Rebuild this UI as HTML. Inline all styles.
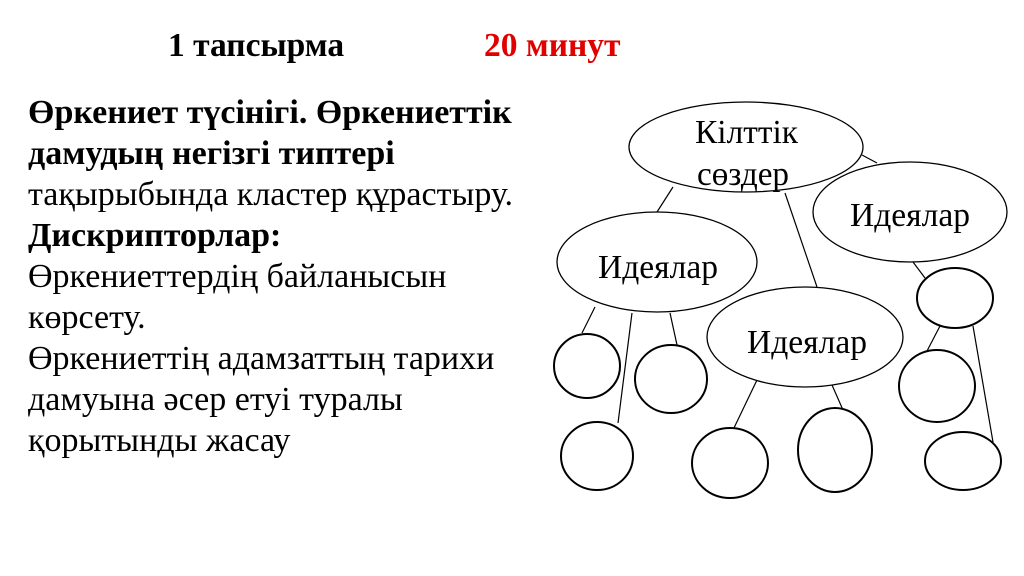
<!DOCTYPE html>
<html><head><meta charset="utf-8"><style>
body{margin:0;width:1024px;height:576px;background:#fff;overflow:hidden;position:relative;font-family:"Liberation Serif",serif;}
.t{position:absolute;font-size:33.5px;font-weight:bold;white-space:nowrap;line-height:1}
.b{position:absolute;left:28px;top:92px;font-size:34px;line-height:41px;white-space:nowrap}
</style></head><body>
<div class="t" style="left:168px;top:29px">1 тапсырма</div>
<div class="t" style="left:484px;top:29px;color:#e00000">20 минут</div>
<div class="b"><b>Өркениет түсінігі. Өркениеттік<br>дамудың негізгі типтері</b><br>тақырыбында кластер құрастыру.<br><b>Дискрипторлар:</b><br>Өркениеттердің байланысын<br>көрсету.<br>Өркениеттің адамзаттың тарихи<br>дамуына әсер етуі туралы<br>қорытынды жасау</div>
<svg width="1024" height="576" style="position:absolute;left:0;top:0" font-family="Liberation Serif, serif" font-size="34">
<g stroke="#000" stroke-width="1.2" fill="none">
<line x1="673" y1="187" x2="657" y2="212"/>
<line x1="785" y1="193" x2="817" y2="287"/>
<line x1="862" y1="155" x2="877" y2="163"/>
<line x1="595" y1="307" x2="582" y2="333"/>
<line x1="632" y1="313" x2="618" y2="423"/>
<line x1="670" y1="313" x2="677" y2="345"/>
<line x1="757" y1="380" x2="733" y2="430"/>
<line x1="832" y1="385" x2="843" y2="410"/>
<line x1="913" y1="262" x2="925" y2="278"/>
<line x1="940" y1="326" x2="927" y2="351"/>
<line x1="973" y1="326" x2="993" y2="442"/>
</g>
<g stroke="#000" stroke-width="1.3" fill="#fff">
<ellipse cx="746" cy="147" rx="117" ry="45"/>
<ellipse cx="910" cy="212" rx="97" ry="50"/>
<ellipse cx="657" cy="262" rx="100" ry="50"/>
<ellipse cx="805" cy="337" rx="98" ry="50"/>
</g>
<g stroke="#000" stroke-width="2" fill="#fff">
<ellipse cx="587" cy="366" rx="33" ry="32"/>
<ellipse cx="671" cy="379" rx="36" ry="34"/>
<ellipse cx="597" cy="456" rx="36" ry="34"/>
<ellipse cx="730" cy="463" rx="38" ry="35"/>
<ellipse cx="835" cy="450" rx="37" ry="42"/>
<ellipse cx="955" cy="298" rx="38" ry="30"/>
<ellipse cx="937" cy="386" rx="38" ry="36"/>
<ellipse cx="963" cy="461" rx="38" ry="29"/>
</g>
<g fill="#000">
<text x="695" y="143" textLength="103" lengthAdjust="spacingAndGlyphs">Кілттік</text>
<text x="697" y="185" textLength="92" lengthAdjust="spacingAndGlyphs">сөздер</text>
<text x="850" y="226" textLength="120" lengthAdjust="spacingAndGlyphs">Идеялар</text>
<text x="598" y="278" textLength="120" lengthAdjust="spacingAndGlyphs">Идеялар</text>
<text x="747" y="353" textLength="120" lengthAdjust="spacingAndGlyphs">Идеялар</text>
</g>
</svg>
</body></html>
